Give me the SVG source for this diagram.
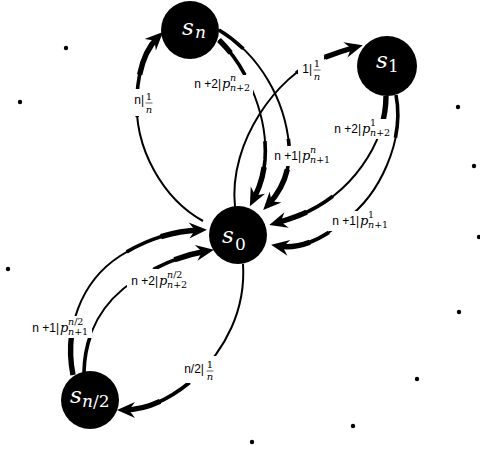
<svg xmlns="http://www.w3.org/2000/svg" width="480" height="456" viewBox="0 0 480 456">
<style>
.e{fill:none;stroke:#000;stroke-linecap:butt}
.w1{stroke-width:2}
.w2{stroke-width:3.6}
.w3{stroke-width:5.4}
.bg{fill:#fff}
.lb{font-family:"Liberation Sans","Open Sans",sans-serif;font-size:12px;fill:#000}
.mi{font-family:"DejaVu Serif",serif;font-style:italic;font-size:13px;fill:#000}
.ms{font-family:"DejaVu Serif",serif;font-size:9.5px;fill:#000}
.fr{font-family:"DejaVu Serif",serif;font-size:10px;fill:#000}
.it{font-style:italic}
.bar{stroke:#000;stroke-width:0.6}
.nd{fill:#000}
.ns{font-family:"DejaVu Serif",serif;font-style:italic;font-size:23px;fill:#fff}
.nsub{font-family:"DejaVu Serif",serif;font-size:17px;fill:#fff}
.dot{fill:#000}
</style>
<defs>
<marker id="ah" markerUnits="userSpaceOnUse" markerWidth="22" markerHeight="18" viewBox="0 0 22 18" refX="12" refY="9" orient="auto">
<path d="M19 9 L1 1 L7 9 L1 17 Z" fill="#000"/>
</marker>
</defs>

<g id="dots">
<circle class="dot" cx="66" cy="48" r="2.2"/>
<circle class="dot" cx="20" cy="102" r="2.2"/>
<circle class="dot" cx="458" cy="107" r="2.2"/>
<circle class="dot" cx="474" cy="166" r="2.2"/>
<circle class="dot" cx="479" cy="237" r="2.2"/>
<circle class="dot" cx="8" cy="269" r="2.2"/>
<circle class="dot" cx="459" cy="312" r="2.2"/>
<circle class="dot" cx="417" cy="379" r="2.2"/>
<circle class="dot" cx="353" cy="426" r="2.2"/>
<circle class="dot" cx="252" cy="442" r="2.2"/>
</g>

<g id="connectors">
<!-- A: s0 -> sn -->
<path class="e w1" marker-end="url(#ah)" d="M 203 221 C 165 200 133 150 137 95 C 139 65 147 48 158 37"/>
<path class="e w2" pathLength="100" stroke-dasharray="0 60 40" d="M 203 221 C 165 200 133 150 137 95 C 139 65 147 48 158 37"/>
<path class="e w3" pathLength="100" stroke-dasharray="0 80 20" d="M 203 221 C 165 200 133 150 137 95 C 139 65 147 48 158 37"/>
<!-- B: sn -> s0 (n+2) -->
<path class="e w1" marker-end="url(#ah)" d="M 219 40 C 250 70 268 120 265 160 C 263 180 258 190 253 200"/>
<path class="e w2" pathLength="100" stroke-dasharray="25 40 35" d="M 219 40 C 250 70 268 120 265 160 C 263 180 258 190 253 200"/>
<path class="e w3" pathLength="100" stroke-dasharray="10 70 20" d="M 219 40 C 250 70 268 120 265 160 C 263 180 258 190 253 200"/>
<!-- C: sn -> s0 (n+1) -->
<path class="e w1" marker-end="url(#ah)" d="M 219 30 C 260 55 285 100 289 145 C 291 170 282 190 268 205"/>
<path class="e w2" pathLength="100" stroke-dasharray="15 50 35" d="M 219 30 C 260 55 285 100 289 145 C 291 170 282 190 268 205"/>
<path class="e w3" pathLength="100" stroke-dasharray="0 80 20" d="M 219 30 C 260 55 285 100 289 145 C 291 170 282 190 268 205"/>
<!-- D: s0 -> s1 -->
<path class="e w1" marker-end="url(#ah)" d="M 235 207 C 228 140 280 75 318 60 C 333 54 345 50 356 47"/>
<path class="e w2" pathLength="100" stroke-dasharray="0 70 30" d="M 235 207 C 228 140 280 75 318 60 C 333 54 345 50 356 47"/>
<path class="e w3" pathLength="100" stroke-dasharray="0 85 15" d="M 235 207 C 228 140 280 75 318 60 C 333 54 345 50 356 47"/>
<!-- E: s1 -> s0 (n+2) -->
<path class="e w1" marker-end="url(#ah)" d="M 386 96 C 386 145 350 195 300 215 C 290 219 283 221 276 223"/>
<path class="e w3" pathLength="100" stroke-dasharray="18 82" d="M 386 96 C 386 145 350 195 300 215 C 290 219 283 221 276 223"/>
<path class="e w2" pathLength="100" stroke-dasharray="0 65 35" d="M 386 96 C 386 145 350 195 300 215 C 290 219 283 221 276 223"/>
<path class="e w3" pathLength="100" stroke-dasharray="0 82 18" d="M 386 96 C 386 145 350 195 300 215 C 290 219 283 221 276 223"/>
<!-- F: s1 -> s0 (n+1) -->
<path class="e w1" marker-end="url(#ah)" d="M 396 95 C 405 140 380 195 345 220 C 325 238 300 250 278 246"/>
<path class="e w2" pathLength="100" stroke-dasharray="20 55 25" d="M 396 95 C 405 140 380 195 345 220 C 325 238 300 250 278 246"/>
<path class="e w3" pathLength="100" stroke-dasharray="0 85 15" d="M 396 95 C 405 140 380 195 345 220 C 325 238 300 250 278 246"/>
<!-- G: s0 -> sn/2 -->
<path class="e w1" marker-end="url(#ah)" d="M 243 264 C 246 310 225 350 195 378 C 172 398 148 410 124 410"/>
<path class="e w2" pathLength="100" stroke-dasharray="0 65 35" d="M 243 264 C 246 310 225 350 195 378 C 172 398 148 410 124 410"/>
<path class="e w3" pathLength="100" stroke-dasharray="0 82 18" d="M 243 264 C 246 310 225 350 195 378 C 172 398 148 410 124 410"/>
<!-- H: sn/2 -> s0 (n+1) -->
<path class="e w1" marker-end="url(#ah)" d="M 73 375 C 64 330 80 282 120 256 C 148 238 175 231 200 230"/>
<path class="e w3" pathLength="100" stroke-dasharray="18 82" d="M 73 375 C 64 330 80 282 120 256 C 148 238 175 231 200 230"/>
<path class="e w2" pathLength="100" stroke-dasharray="0 65 35" d="M 73 375 C 64 330 80 282 120 256 C 148 238 175 231 200 230"/>
<path class="e w3" pathLength="100" stroke-dasharray="0 82 18" d="M 73 375 C 64 330 80 282 120 256 C 148 238 175 231 200 230"/>
<!-- I: sn/2 -> s0 (n+2) -->
<path class="e w1" marker-end="url(#ah)" d="M 84 372 C 85 330 105 300 135 280 C 160 264 183 255 207 251"/>
<path class="e w2" pathLength="100" stroke-dasharray="20 50 30" d="M 84 372 C 85 330 105 300 135 280 C 160 264 183 255 207 251"/>
<path class="e w3" pathLength="100" stroke-dasharray="0 82 18" d="M 84 372 C 85 330 105 300 135 280 C 160 264 183 255 207 251"/>
</g>

<g id="labels">
<g id="lblA">
<rect class="bg" x="129" y="89" width="27" height="27"/>
<text class="lb" x="144" y="104" text-anchor="end">n|</text>
<text class="fr" x="149" y="100" text-anchor="middle">1</text>
<line class="bar" x1="145.5" y1="103" x2="152.5" y2="103"/>
<text class="fr it" x="149" y="113" text-anchor="middle">n</text>
</g>
<g id="lblB">
<rect class="bg" x="190" y="75" width="63" height="19"/>
<text class="lb" x="221" y="88" text-anchor="end">n +2|</text>
<text class="mi" x="222" y="88">p</text>
<text class="ms" x="230" y="81"><tspan class="it">n</tspan></text>
<text class="ms" x="230" y="91"><tspan class="it">n</tspan>+2</text>
</g>
<g id="lblC">
<rect class="bg" x="271" y="146" width="63" height="20"/>
<text class="lb" x="301" y="160" text-anchor="end">n +1|</text>
<text class="mi" x="302" y="160">p</text>
<text class="ms" x="310" y="153"><tspan class="it">n</tspan></text>
<text class="ms" x="310" y="163"><tspan class="it">n</tspan>+1</text>
</g>
<g id="lblD">
<rect class="bg" x="298" y="56" width="26" height="27"/>
<text class="lb" x="312" y="73" text-anchor="end">1|</text>
<text class="fr" x="317" y="67" text-anchor="middle">1</text>
<line class="bar" x1="313.5" y1="70" x2="320.5" y2="70"/>
<text class="fr it" x="317" y="80" text-anchor="middle">n</text>
</g>
<g id="lblE">
<rect class="bg" x="330" y="119" width="62" height="20"/>
<text class="lb" x="361" y="133" text-anchor="end">n +2|</text>
<text class="mi" x="362" y="133">p</text>
<text class="ms" x="370" y="126">1</text>
<text class="ms" x="370" y="136"><tspan class="it">n</tspan>+2</text>
</g>
<g id="lblF">
<rect class="bg" x="328" y="211" width="63" height="20"/>
<text class="lb" x="359" y="225" text-anchor="end">n +1|</text>
<text class="mi" x="360" y="225">p</text>
<text class="ms" x="368" y="218">1</text>
<text class="ms" x="368" y="228"><tspan class="it">n</tspan>+1</text>
</g>
<g id="lblG">
<rect class="bg" x="178" y="356" width="38" height="27"/>
<text class="lb" x="204" y="373" text-anchor="end">n/2|</text>
<text class="fr" x="210" y="368" text-anchor="middle">1</text>
<line class="bar" x1="206.5" y1="371" x2="213.5" y2="371"/>
<text class="fr it" x="210" y="380" text-anchor="middle">n</text>
</g>
<g id="lblH">
<rect class="bg" x="29" y="316" width="63" height="22"/>
<text class="lb" x="59" y="332" text-anchor="end">n +1|</text>
<text class="mi" x="60" y="332">p</text>
<text class="ms" x="68" y="325"><tspan class="it">n</tspan>/2</text>
<text class="ms" x="68" y="335"><tspan class="it">n</tspan>+1</text>
</g>
<g id="lblI">
<rect class="bg" x="127" y="269" width="63" height="22"/>
<text class="lb" x="158" y="285" text-anchor="end">n +2|</text>
<text class="mi" x="159" y="285">p</text>
<text class="ms" x="167" y="278"><tspan class="it">n</tspan>/2</text>
<text class="ms" x="167" y="288"><tspan class="it">n</tspan>+2</text>
</g>
</g>

<g id="node-sn">
<circle class="nd" cx="190" cy="30" r="29"/>
<text class="ns" x="182" y="35">s</text>
<text class="nsub it" x="195" y="38">n</text>
</g>
<g id="node-s1">
<circle class="nd" cx="387" cy="66" r="30"/>
<text class="ns" x="376" y="68">s</text>
<text class="nsub" x="388" y="72">1</text>
</g>
<g id="node-s0">
<circle class="nd" cx="238" cy="235" r="29"/>
<text class="ns" x="222" y="243">s</text>
<text class="nsub" x="235" y="250">0</text>
</g>
<g id="node-sn2">
<circle class="nd" cx="90" cy="400" r="29"/>
<text class="ns" x="70" y="403">s</text>
<text class="nsub" x="82" y="407"><tspan class="it">n</tspan>/2</text>
</g>
</svg>
